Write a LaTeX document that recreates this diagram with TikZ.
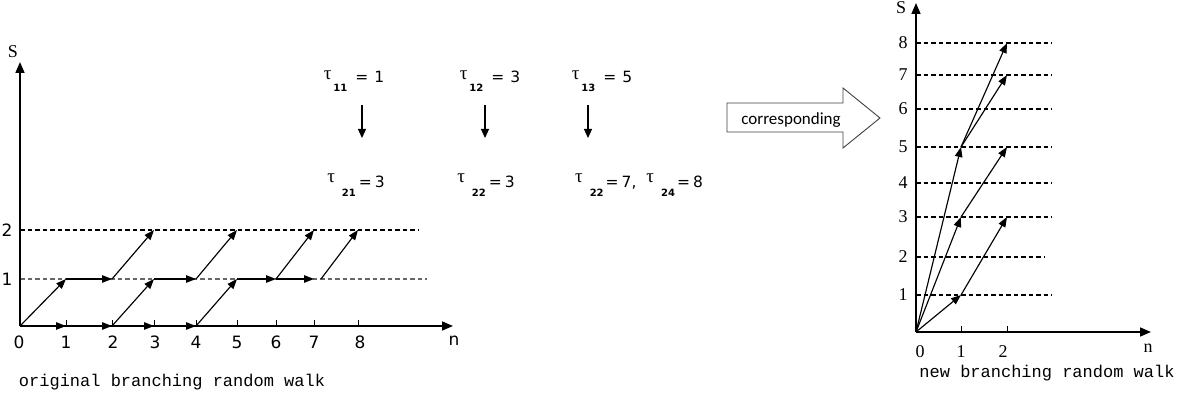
\documentclass[tikz,border=0pt]{standalone}
\usepackage{fontspec}
\setmainfont{Liberation Serif}
\newfontfamily\numfont{DejaVu Sans}
\newfontfamily\monofont{Liberation Mono}
\newfontfamily\calfont{Carlito}
\usetikzlibrary{arrows.meta}
\newcommand\sbx[1]{\raisebox{-9pt}{\numfont\fontsize{10}{10}\selectfont\bfseries #1}}
\newcommand\tauS[1]{\raisebox{#1}{\rmfamily\fontsize{19}{19}\selectfont τ}}
\begin{document}
\begin{tikzpicture}[x=1pt,y=-1pt,
  axisline/.style={line width=1.6pt,-{Triangle[length=11pt,width=9pt]}},
  arr/.style={line width=1.15pt,-{Triangle[length=10pt,width=7.5pt]}},
  downarr/.style={line width=1.2pt,-{Triangle[length=9pt,width=8pt]}},
  gridline/.style={line width=1.1pt,dash pattern=on 4.5pt off 3pt},
  lnum/.style={inner sep=0pt,font=\numfont\fontsize{17}{17}\selectfont},
  rnum/.style={inner sep=0pt,font=\rmfamily\fontsize{18}{18}\selectfont},
  caption/.style={inner sep=0pt,font=\monofont\fontsize{17}{17}\selectfont},
  taulbl/.style={inner sep=0pt,anchor=base,font=\numfont\fontsize{15.5}{15.5}\selectfont},
  tick/.style={line width=1pt}]
\useasboundingbox (0,0) rectangle (1184,395);

% ---------------- left graph ----------------
\foreach \i/\x in {0/20,1/66,2/112,3/154,4/196,5/237,6/276,7/314,8/358} {
  \coordinate (L\i-0) at (\x,326);
  \coordinate (L\i-1) at (\x,279);
  \coordinate (L\i-2) at (\x,230);
}
\coordinate (L7b-1) at (321,279);
\coordinate (LX) at (453,326);
\coordinate (LY) at (20,62);
\coordinate (LD2) at (418,230);
\coordinate (LD1) at (427,279);

\draw[gridline] (L0-2) -- (LD2);
\draw[gridline,black!60] (L0-1) -- (LD1);
\foreach \i in {1,...,8} \draw[tick] (L\i-0) -- ++(0,-6);
\draw[axisline] (L0-0) -- (LX);
\draw[axisline] (L0-0) -- (LY);

\node[inner sep=0pt,font=\rmfamily\fontsize{18}{18}\selectfont] (LS) at (13,52) {S};
\node[lnum] (Ln) at (454,341) {n};
\node[lnum] (Ly1) at (7,279) {1};
\node[lnum] (Ly2) at (7,230) {2};
\foreach \i/\x in {0/19,1/66,2/113,3/155,4/196,5/237,6/276,7/314,8/360}
  \node[lnum] (Lx\i) at (\x,342) {\i};

\draw[arr] (L0-0) -- (L1-1);
\draw[arr] (L1-1) -- (L2-1);
\draw[arr] (L2-1) -- (L3-2);
\draw[arr] (L0-0) -- (L1-0);
\draw[arr] (L1-0) -- (L2-0);
\draw[arr] (L2-0) -- (L3-0);
\draw[arr] (L3-0) -- (L4-0);
\draw[arr] (L2-0) -- (L3-1);
\draw[arr] (L3-1) -- (L4-1);
\draw[arr] (L4-1) -- (L5-2);
\draw[arr] (L4-0) -- (L5-1);
\draw[arr] (L5-1) -- (L6-1);
\draw[arr] (L6-1) -- (L7-2);
\draw[arr] (L6-1) -- (L7-1);
\draw[arr] (L7b-1) -- (L8-2);

\node[caption] (Lcap) at (172,382) {original branching random walk};

% ---------------- tau labels ----------------
\node[taulbl] (t11) at (354,83) {\tauS{3pt}\kern2pt\sbx{11}\hspace{8pt}=\hspace{6pt}1};
\node[taulbl] (t12) at (490,83) {\tauS{3pt}\kern2pt\sbx{12}\hspace{8pt}=\hspace{6pt}3};
\node[taulbl] (t13) at (602,83) {\tauS{3pt}\kern2pt\sbx{13}\hspace{8pt}=\hspace{6pt}5};
\node[taulbl] (t21) at (356,188) {\tauS{5pt}\hspace{7pt}\sbx{21}\hspace{3pt}=\hspace{3pt}3};
\node[taulbl] (t22) at (486,188) {\tauS{5pt}\hspace{7pt}\sbx{22}\hspace{3pt}=\hspace{3pt}3};
\node[taulbl] (t23) at (639,188) {\tauS{5pt}\hspace{7pt}\sbx{22}\hspace{2pt}=\hspace{3pt}7,\hspace{10pt}\tauS{5pt}\hspace{7pt}\sbx{24}\hspace{2pt}=\hspace{3pt}8};
\foreach \n/\x in {a/362,b/485,c/588} {
  \coordinate (d\n1) at (\x,105);
  \coordinate (d\n2) at (\x,138);
  \draw[downarr] (d\n1) -- (d\n2);
}

% ---------------- corresponding arrow ----------------
\draw[line width=0.9pt,black!75] (727,103) -- (843,103) -- (843,88) -- (880,118)
  -- (843,148) -- (843,132) -- (727,132) -- cycle;
\node[inner sep=0pt,font=\calfont\fontsize{17}{17}\selectfont] (corr) at (791,120) {corresponding};

% ---------------- right graph ----------------
\foreach \i/\x in {0/916,1/961,2/1007} {
  \foreach \j/\y in {0/332,1/295,2/257,3/217,4/183,5/147,6/109,7/75,8/43} {
    \coordinate (R\i-\j) at (\x,\y);
  }
}
\coordinate (RX) at (1151,332);
\coordinate (RY) at (916,3);
\foreach \j/\y/\e in {1/295/1052,2/257/1045,3/217/1052,4/183/1052,5/147/1052,6/109/1052,7/75/1052,8/43/1052} {
  \coordinate (RE\j) at (\e,\y);
  \draw[gridline] (R0-\j) -- (RE\j);
  \node[rnum] (Ry\j) at (903,\y) {\j};
}
\draw[tick] (R1-0) -- ++(0,-6);
\draw[tick] (R2-0) -- ++(0,-6);
\draw[axisline] (R0-0) -- (RX);
\draw[axisline] (R0-0) -- (RY);
\node[rnum] (RS) at (901,8) {S};
\node[rnum] (Rx0) at (920,352) {0};
\node[rnum] (Rx1) at (961,352) {1};
\node[rnum] (Rx2) at (1003,352) {2};
\node[rnum] (Rn) at (1148,348) {n};

\draw[arr] (R0-0) -- (R1-1);
\draw[arr] (R1-1) -- (R2-3);
\draw[arr] (R0-0) -- (R1-3);
\draw[arr] (R1-3) -- (R2-5);
\draw[arr] (R0-0) -- (R1-5);
\draw[arr] (R1-5) -- (R2-7);
\draw[arr] (R1-5) -- (R2-8);

\node[caption] (Rcap) at (1047,373) {new branching random walk};
\end{tikzpicture}
\end{document}
